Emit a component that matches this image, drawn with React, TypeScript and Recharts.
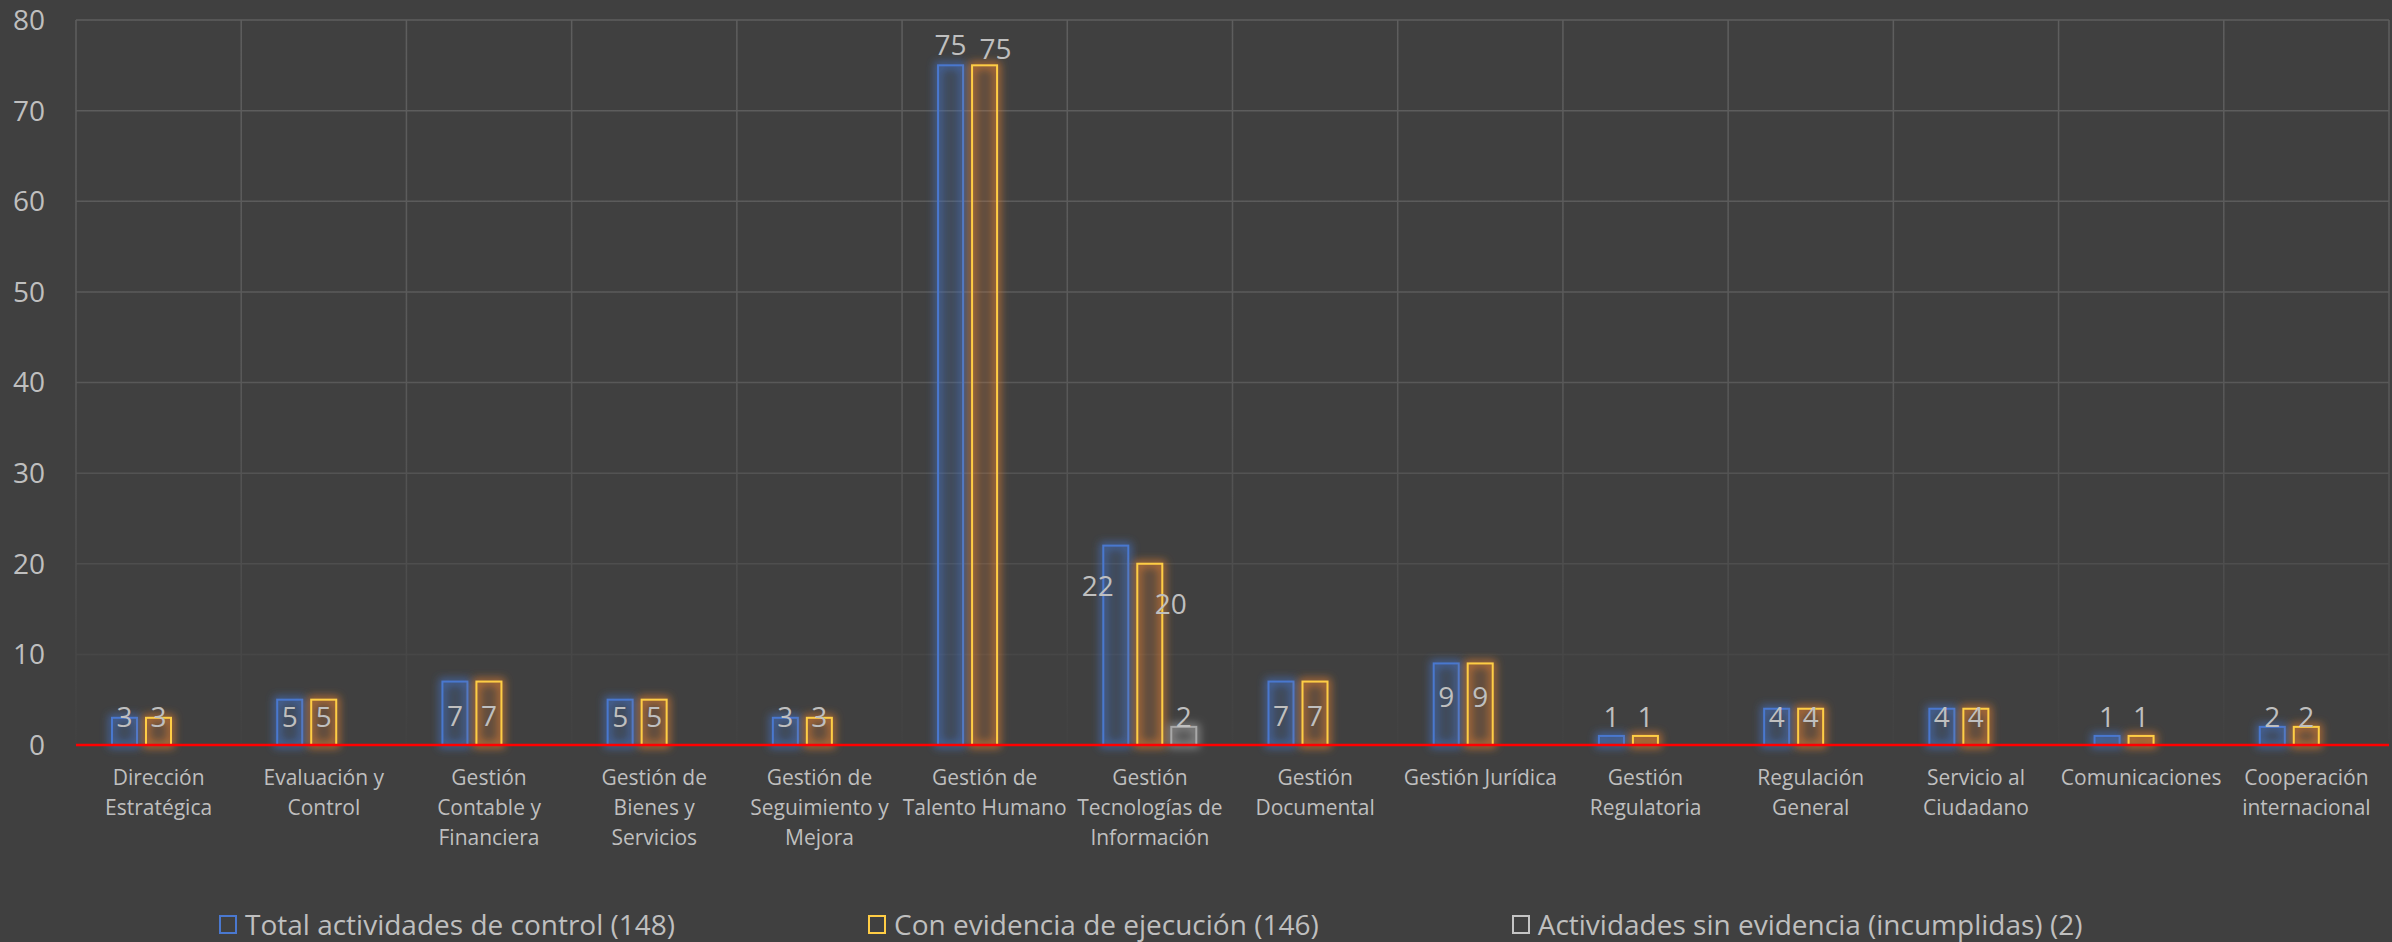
import {
  BarChart,
  Bar,
  XAxis,
  YAxis,
  CartesianGrid,
  Legend,
  ReferenceLine,
} from "recharts";

const categories = [
  "Dirección\nEstratégica",
  "Evaluación y\nControl",
  "Gestión\nContable y\nFinanciera",
  "Gestión de\nBienes y\nServicios",
  "Gestión de\nSeguimiento y\nMejora",
  "Gestión de\nTalento Humano",
  "Gestión\nTecnologías de\nInformación",
  "Gestión\nDocumental",
  "Gestión Jurídica",
  "Gestión\nRegulatoria",
  "Regulación\nGeneral",
  "Servicio al\nCiudadano",
  "Comunicaciones",
  "Cooperación\ninternacional",
];

const totalActividades = [3, 5, 7, 5, 3, 75, 22, 7, 9, 1, 4, 4, 1, 2];
const conEvidencia = [3, 5, 7, 5, 3, 75, 20, 7, 9, 1, 4, 4, 1, 2];
const sinEvidencia = [0, 0, 0, 0, 0, 0, 2, 0, 0, 0, 0, 0, 0, 0];

const yTicks = [0, 10, 20, 30, 40, 50, 60, 70, 80];

const series = [
  {
    key: "total",
    name: "Total actividades de control (148)",
    stroke: "#4a78cf",
    glow: "#4472c4",
    legend: "#4a78cf",
  },
  {
    key: "evidencia",
    name: "Con evidencia de ejecución (146)",
    stroke: "#ffcd45",
    glow: "#e8802e",
    legend: "#ffcd45",
  },
  {
    key: "sin",
    name: "Actividades sin evidencia (incumplidas) (2)",
    stroke: "#a8a8a8",
    glow: "#a5a5a5",
    legend: "#c4c4c4",
  },
];

const data = categories.map((c, i) => ({
  categoria: c,
  total: totalActividades[i],
  evidencia: conEvidencia[i],
  sin: sinEvidencia[i],
}));

const FONT = "'Open Sans', 'Noto Sans', sans-serif";
const TEXT = "#bfbfbf";
const BG = "#404040";

function CategoryTick(props: any) {
  const { x, y, payload } = props;
  const lines = String(payload.value).split("\n");
  return (
    <text
      x={x}
      y={y + 40}
      textAnchor="middle"
      fill={TEXT}
      fontSize={21}
      fontFamily={FONT}
    >
      {lines.map((l, i) => (
        <tspan key={i} x={x} dy={i === 0 ? 0 : 30}>
          {l}
        </tspan>
      ))}
    </text>
  );
}

// Excel placed the labels by hand, so a few offsets differ per series
function makeLabel(idx: number) {
  return (props: any) => {
    const { x, y, width, height, value } = props;
    if (!value) return null;
    const base = y + height;
    let cx = x + width / 2;
    let cy = Math.min(y + 33, base - 29);
    if (value >= 50) {
      cy = idx === 1 ? y - 17 : y - 21;
      if (idx === 1) cx += 11;
    } else if (value >= 10) {
      cy = y + 39;
      cx += idx === 0 ? -18 : 21;
    }
    return (
      <text
        x={cx}
        y={cy}
        textAnchor="middle"
        dominantBaseline="central"
        fill={TEXT}
        fontSize={28}
        fontFamily={FONT}
      >
        {value}
      </text>
    );
  };
}

function makeShape(idx: number) {
  const s = series[idx];
  return (props: any) => {
    const { x, y, width, height } = props;
    if (!height || height <= 0) return <g />;
    return (
      <rect
        x={x}
        y={y}
        width={width}
        height={height}
        fill={s.glow}
        fillOpacity={0.12}
        stroke={s.stroke}
        strokeWidth={2}
        filter={`url(#glow-${s.key})`}
      />
    );
  };
}

function LegendContent() {
  return (
    <div
      style={{
        height: 60,
        paddingTop: 28,
        paddingLeft: 219,
        boxSizing: "border-box",
        display: "flex",
        gap: 193,
        fontFamily: FONT,
        fontSize: 28,
        color: TEXT,
      }}
    >
      {series.map((s) => (
        <div
          key={s.key}
          style={{ display: "flex", alignItems: "center", height: 29 }}
        >
          <span
            style={{
              display: "inline-block",
              width: 14,
              height: 15,
              border: `2px solid ${s.legend}`,
              marginRight: 8,
            }}
          />
          <span style={{ whiteSpace: "nowrap", lineHeight: "29px" }}>
            {s.name}
          </span>
        </div>
      ))}
    </div>
  );
}

export default function App() {
  const n = categories.length;
  return (
    <div
      style={{
        position: "absolute",
        left: 0,
        top: 0,
        width: 2392,
        height: 942,
        background: BG,
        overflow: "hidden",
      }}
    >
      <BarChart
        width={2392}
        height={942}
        data={data}
        margin={{ top: 20, right: 3, left: 0, bottom: 0 }}
        barGap={9}
      >
        <defs>
          <linearGradient
            id="gridFade"
            gradientUnits="userSpaceOnUse"
            x1="0"
            y1="0%"
            x2="0"
            y2="100%"
          >
            <stop offset="0" stopColor="#5e5e5e" />
            <stop offset="0.4" stopColor="#595959" />
            <stop offset="0.6" stopColor="#4e4e4e" />
            <stop offset="0.72" stopColor="#454545" />
            <stop offset="0.8" stopColor="#414141" />
          </linearGradient>
          {series.map((s) => (
            <filter
              key={s.key}
              id={`glow-${s.key}`}
              filterUnits="userSpaceOnUse"
              x="0%"
              y="0%"
              width="100%"
              height="100%"
            >
              <feMorphology
                in="SourceAlpha"
                operator="dilate"
                radius="2"
                result="d"
              />
              <feGaussianBlur in="d" stdDeviation="4" result="b" />
              <feFlood floodColor={s.glow} floodOpacity="0.75" />
              <feComposite in2="b" operator="in" result="g" />
              <feMerge>
                <feMergeNode in="g" />
                <feMergeNode in="SourceGraphic" />
              </feMerge>
            </filter>
          ))}
        </defs>
        <CartesianGrid
          stroke="url(#gridFade)"
          strokeWidth={1.5}
          verticalCoordinatesGenerator={({ offset }: any) =>
            Array.from(
              { length: n + 1 },
              (_, i) => offset.left + (i * offset.width) / n
            )
          }
        />
        <XAxis
          dataKey="categoria"
          interval={0}
          height={137}
          axisLine={false}
          tickLine={false}
          tickSize={0}
          tickMargin={0}
          tick={<CategoryTick />}
        />
        <YAxis
          width={76}
          domain={[0, 80]}
          ticks={yTicks}
          axisLine={false}
          tickLine={false}
          tickSize={0}
          tickMargin={31}
          tick={{ fill: TEXT, fontSize: 28, fontFamily: FONT }}
        />
        <Legend verticalAlign="bottom" content={<LegendContent />} />
        {series.map((s, i) => (
          <Bar
            key={s.key}
            dataKey={s.key}
            name={s.name}
            barSize={25}
            fill="none"
            stroke={s.stroke}
            shape={makeShape(i)}
            label={makeLabel(i)}
            isAnimationActive={false}
          />
        ))}
        <ReferenceLine y={0} stroke="#ff0000" strokeWidth={2.5} />
      </BarChart>
    </div>
  );
}
